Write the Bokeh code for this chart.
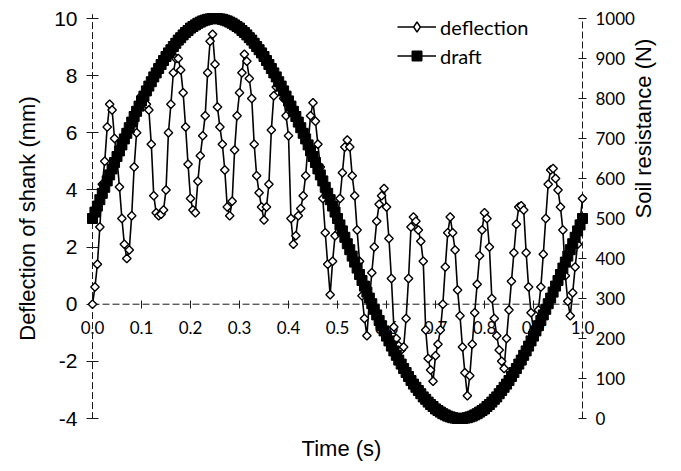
from math import pi
from bokeh.plotting import figure
from bokeh.models import (Range1d, LinearAxis, FixedTicker, PrintfTickFormatter,
                          Legend, LegendItem)
from bokeh.embed import file_html
from bokeh.resources import INLINE

# ---------------- data ----------------
sample_interval_s = 0.005

deflection_mm = [
    0.0, 0.6, 1.4, 2.7, 4.2, 5.0, 6.2, 7.0, 6.8, 5.8,
    5.1, 4.1, 3.0, 2.1, 1.6, 1.9, 3.1, 4.8, 6.0, 6.9,
    7.3, 7.3, 7.0, 6.8, 5.6, 3.8, 3.2, 3.1, 3.15, 3.3,
    4.0, 6.0, 7.0, 8.1, 8.6, 8.6, 8.2, 7.4, 6.2, 4.9,
    3.7, 3.3, 3.2, 4.3, 5.2, 5.9, 6.6, 8.1, 9.2, 9.45,
    8.4, 6.9, 6.2, 5.6, 4.7, 3.4, 3.1, 3.6, 5.4, 6.6,
    7.4, 8.1, 8.75, 8.5, 7.9, 7.2, 5.6, 4.5, 3.9, 3.4,
    2.95, 3.4, 4.2, 6.1, 7.3, 7.6, 7.7, 7.6, 7.2, 6.6,
    5.9, 3.0, 2.1, 2.4, 3.1, 3.35, 3.8, 4.5, 5.6, 6.6,
    7.05, 6.4, 5.6, 4.8, 3.7, 2.5, 1.4, 0.33, 1.5, 2.4,
    3.1, 3.7, 4.6, 5.5, 5.75, 5.5, 4.5, 3.8, 2.6, 1.5,
    0.3, -0.5, -1.1, 0.1, 1.1, 2.0, 2.9, 3.5, 3.8, 4.05,
    3.4, 2.3, 0.9, -0.8, -1.2, -1.45, -1.6, -1.5, -0.5, 0.9,
    2.7, 3.05, 2.9, 2.6, 2.2, 1.5, -0.9, -1.9, -2.3, -2.7,
    -1.8, -1.4, -0.9, 0.0, 1.3, 2.5, 3.05, 2.5, 1.9, 0.5,
    -0.4, -1.5, -2.4, -3.2, -2.5, -1.4, -0.3, 0.7, 1.7, 2.6,
    3.2, 3.0, 2.0, 0.2, -0.5, -1.1, -1.6, -2.0, -2.25, -1.2,
    -0.2, 0.8, 1.8, 2.8, 3.4, 3.45, 3.3, 1.8, 0.6, -0.3,
    -0.9, -1.0, -0.2, 0.6, 1.75, 3.0, 4.2, 4.7, 4.75, 4.4,
    4.0, 3.4, 2.6, 1.0, 0.1, -0.4, 0.4, 1.3, 2.1, 2.9,
    3.7,
]

draft_N = [
    500, 516, 531, 547, 563, 578, 594, 609, 624, 640,
    655, 669, 684, 699, 713, 727, 741, 755, 768, 781,
    794, 806, 819, 831, 842, 854, 864, 875, 885, 895,
    905, 914, 922, 930, 938, 946, 952, 959, 965, 970,
    976, 980, 984, 988, 991, 994, 996, 998, 999, 1000,
    1000, 1000, 999, 998, 996, 994, 991, 988, 984, 980,
    976, 970, 965, 959, 952, 946, 938, 930, 922, 914,
    905, 895, 885, 875, 864, 854, 842, 831, 819, 806,
    794, 781, 768, 755, 741, 727, 713, 699, 684, 669,
    655, 640, 624, 609, 594, 578, 563, 547, 531, 516,
    500, 484, 469, 453, 437, 422, 406, 391, 376, 360,
    345, 331, 316, 301, 287, 273, 259, 245, 232, 219,
    206, 194, 181, 169, 158, 146, 136, 125, 115, 105,
    95, 86, 78, 70, 62, 54, 48, 41, 35, 30,
    24, 20, 16, 12, 9, 6, 4, 2, 1, 0,
    0, 0, 1, 2, 4, 6, 9, 12, 16, 20,
    24, 30, 35, 41, 48, 54, 62, 70, 78, 86,
    95, 105, 115, 125, 136, 146, 158, 169, 181, 194,
    206, 219, 232, 245, 259, 273, 287, 301, 316, 331,
    345, 360, 376, 391, 406, 422, 437, 453, 469, 484,
    500,
]

time_s = [round(i * sample_interval_s, 3) for i in range(len(deflection_mm))]

x_ticks = [0.0, 0.1, 0.2, 0.3, 0.4, 0.5, 0.6, 0.7, 0.8, 0.9, 1.0]
left_ticks = [-4, -2, 0, 2, 4, 6, 8, 10]
right_ticks = [0, 100, 200, 300, 400, 500, 600, 700, 800, 900, 1000]

x_title = "Time (s)"
left_title = "Deflection of shank (mm)"
right_title = "Soil resistance (N)"
series_names = ["deflection", "draft"]

# ---------------- layout geometry (pixels) ----------------
W, H = 681, 471
FL, FR, FT, FB = 40, 642, 4, 432          # frame edges
AX_L, AX_R = 92, 582                      # where time 0 and 1 sit
AX_T, AX_B = 18, 418                      # where the top / bottom ticks sit

px_per_s = (AX_R - AX_L) / (x_ticks[-1] - x_ticks[0])
x_start = x_ticks[0] - (AX_L - FL) / px_per_s
x_end = x_ticks[-1] + (FR - AX_R) / px_per_s
px_per_mm = (AX_B - AX_T) / (left_ticks[-1] - left_ticks[0])
y_start = left_ticks[0] - (FB - AX_B) / px_per_mm
y_end = left_ticks[-1] + (AX_T - FT) / px_per_mm
px_per_N = (AX_B - AX_T) / (right_ticks[-1] - right_ticks[0])
r_start = right_ticks[0] - (FB - AX_B) / px_per_N
r_end = right_ticks[-1] + (AX_T - FT) / px_per_N

AX = "#1a1a1a"
DASH = "7 3"
TITLE_FONT = "Liberation Sans"

p = figure(width=W, height=H,
           x_range=Range1d(x_start, x_end), y_range=Range1d(y_start, y_end),
           output_backend="svg", toolbar_location=None,
           x_axis_location=None, y_axis_location=None,
           min_border_left=FL, min_border_right=W - FR,
           min_border_top=FT, min_border_bottom=H - FB)
p.extra_y_ranges = {"force": Range1d(r_start, r_end)}
p.outline_line_color = None
p.background_fill_color = "white"
p.border_fill_color = "white"
for g in p.grid:
    g.visible = False
    g.grid_line_color = None


def title_axis(text, standoff, orientation=None):
    ax = LinearAxis(ticker=FixedTicker(ticks=[]))
    ax.axis_line_color = None
    ax.major_tick_line_color = None
    ax.minor_tick_line_color = None
    ax.major_tick_in = 0
    ax.major_tick_out = 0
    ax.axis_label = text
    ax.axis_label_text_font = TITLE_FONT
    ax.axis_label_text_font_size = "22px"
    ax.axis_label_text_font_style = "normal"
    ax.axis_label_text_color = "black"
    ax.axis_label_standoff = standoff
    if orientation is not None:
        ax.axis_label_orientation = orientation
    return ax


p.add_layout(title_axis(x_title, 3), "below")
p.add_layout(title_axis(left_title, 1), "left")
p.add_layout(title_axis(right_title, 1, pi / 2), "right")

# axis lines (dashed, only between the first and last tick)
p.segment(x0=[x_ticks[0]], y0=[left_ticks[0] - 0.02], x1=[x_ticks[0]], y1=[left_ticks[-1] + 0.15],
          line_color=AX, line_width=1, line_dash=DASH)
p.segment(x0=[x_ticks[-1]], y0=[right_ticks[0]], x1=[x_ticks[-1]], y1=[right_ticks[-1]],
          y_range_name="force", line_color=AX, line_width=1, line_dash=DASH)
p.segment(x0=[x_ticks[0]], y0=[0], x1=[x_ticks[-1]], y1=[0],
          line_color=AX, line_width=1, line_dash=DASH)

# tick axes placed at data positions inside the frame
ly = LinearAxis(fixed_location=x_ticks[0], ticker=FixedTicker(ticks=left_ticks),
                formatter=PrintfTickFormatter(format="%d"))
ly.major_label_text_font = "Liberation Sans"
ly.major_label_text_font_size = "21px"
ly.major_label_standoff = 9
p.add_layout(ly, "left")

ry = LinearAxis(fixed_location=x_ticks[-1], y_range_name="force",
                ticker=FixedTicker(ticks=right_ticks),
                formatter=PrintfTickFormatter(format="%d"))
ry.major_label_text_font = "Lato"
ry.major_label_text_font_size = "17px"
ry.major_label_standoff = 9
p.add_layout(ry, "right")

xa = LinearAxis(fixed_location=0, ticker=FixedTicker(ticks=x_ticks),
                formatter=PrintfTickFormatter(format="%.1f"))
xa.major_label_text_font = "Lato"
xa.major_label_text_font_size = "17px"
xa.major_label_standoff = 13
p.add_layout(xa, "below")

for ax, tin, tout in [(ly, 6, 6), (ry, 4, 4), (xa, 4, 4)]:
    ax.level = "underlay"
    ax.axis_line_color = None
    ax.major_tick_line_color = AX
    ax.major_tick_line_width = 1
    ax.major_tick_in = tin
    ax.major_tick_out = tout
    ax.minor_tick_line_color = None
    ax.major_label_text_color = "black"

# ---------------- series ----------------
l1 = p.line(time_s, deflection_mm, line_color="black", line_width=1.6)
s1 = p.scatter(time_s, deflection_mm, marker="square", angle=pi / 4, size=6,
               fill_color="white", line_color="black", line_width=1.4)
l2 = p.line(time_s, draft_N, y_range_name="force", line_color="black", line_width=1.5)
s2 = p.scatter(time_s, draft_N, y_range_name="force", marker="square", size=10,
               fill_color="black", line_color="black")
# marker used only for the legend key (a single undrawable point)
s1_key = p.scatter(x=[float("nan")], y=[float("nan")], marker="diamond", size=11,
                   fill_color="white", line_color="black", line_width=1.4)

legend = Legend(items=[LegendItem(label=series_names[0], renderers=[l1, s1_key]),
                       LegendItem(label=series_names[1], renderers=[l2, s2])],
                location=(397 - FL, FB - 68), orientation="vertical",
                glyph_width=39, glyph_height=25, label_height=25, label_width=110,
                spacing=4, padding=0, margin=0, label_standoff=4,
                border_line_color=None, background_fill_alpha=0,
                label_text_font="Lato", label_text_font_size="20px",
                label_text_color="black")
p.add_layout(legend)

open("out.html", "w").write(file_html(p, INLINE))
